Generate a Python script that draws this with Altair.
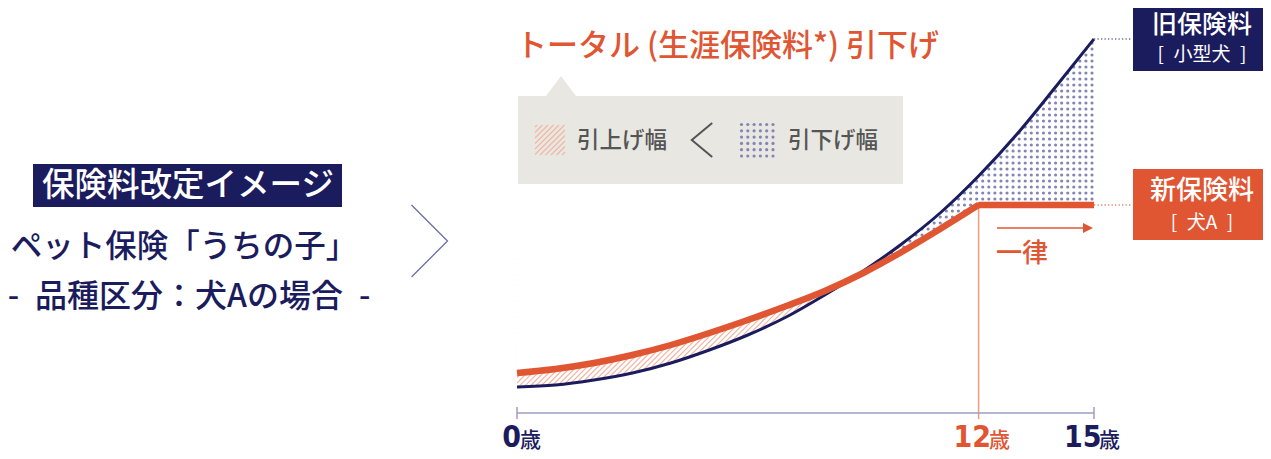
import altair as alt
import pandas as pd

# ---------------- data (arbitrary premium units) ----------------
ages = list(range(16))
old_premium = [26, 28, 33, 40, 50, 63, 78, 96, 118, 142, 169, 200, 237, 279, 326, 374]
new_premium = [40, 44, 50, 58, 68, 80, 93, 107, 122, 140, 161, 184, 208, 208, 208, 208]
flat_from_age = 12
tick_ages = [0, 12, 15]
tick_numbers = ["0", "12", "15"]
tick_unit = "歳"

title_text = "トータル (生涯保険料*) 引下げ"
badge_text = "保険料改定イメージ"
product_text = "ペット保険「うちの子」"
case_text = "-\u2002品種区分：犬Aの場合\u2002-"
legend_up = "引上げ幅"
legend_down = "引下げ幅"
old_label = "旧保険料"
old_sub = "[\u2002小型犬\u2002]"
new_label = "新保険料"
new_sub = "[\u2002犬A\u2002]"
flat_label = "一律"

# ---------------- styles ----------------
NAVY = "#1b1c5e"
ORANGE = "#e05633"
HATCH = "#f1b6a2"
DOT = "#8285b5"
LEGEND_BG = "#e8e7e1"
GRAY = "#555555"
AXIS = "#9d9fc3"
RULE12 = "#f29a80"
JP = "Noto Sans CJK JP"
NUM = "Liberation Sans Narrow, DejaVu Sans Condensed, Noto Sans"

W, H = 577, 393
OX, OY = 517, 20          # page position of the plot origin
PPA = W / 15.0            # pixels per year of age


def px(x):
    return x - OX


def py(y):
    return y - OY


xs = alt.Scale(domain=[0, 15], nice=False, zero=False)
ys = alt.Scale(domain=[0, H], nice=False, zero=False)


def X(f):
    return alt.X(f, type="quantitative", scale=xs, axis=None)


def Y(f):
    return alt.Y(f, type="quantitative", scale=ys, axis=None)


df = pd.DataFrame({"age": ages, "old": old_premium, "new": new_premium})
base = alt.Chart(df)
ann = alt.Chart(alt.Data(values=[{"k": 0}]))

layers = []

# ---- hatch pattern (increase region, ages 0-9) ----
hatch = (
    alt.Chart(alt.sequence(0, 92, as_="k"))
    .transform_calculate(p="-150 + datum.k * 5.4")
    .transform_calculate(s0="max(datum.p, 0)")
    .transform_calculate(s1=f"min(datum.p + 150, {8.9 * PPA})")
    .transform_filter("datum.s1 > datum.s0")
    .transform_calculate(a0=f"datum.s0 / {PPA}")
    .transform_calculate(a1=f"datum.s1 / {PPA}")
    .transform_calculate(v0="15 + datum.s0 - datum.p")
    .transform_calculate(v1="15 + datum.s1 - datum.p")
    .mark_rule(color=HATCH, strokeWidth=1.1)
    .encode(x=X("a0"), x2=alt.X2("a1"), y=Y("v0"), y2=alt.Y2("v1"))
)
layers.append(hatch)

left = base.transform_filter("datum.age <= 9")
layers.append(
    left.transform_calculate(top="170")
    .mark_area(color="white", opacity=1, interpolate="monotone")
    .encode(x=X("age"), y=Y("new"), y2=alt.Y2("top"))
)
layers.append(
    left.transform_calculate(bot="10")
    .mark_area(color="white", opacity=1, interpolate="monotone")
    .encode(x=X("age"), y=Y("bot"), y2=alt.Y2("old"))
)

# ---- dot pattern (decrease region, ages 9-15) ----
dots = (
    alt.Chart(alt.sequence(0, 38, as_="i"))
    .transform_calculate(row="sequence(-13, 29)")
    .transform_flatten(["row"])
    .transform_calculate(age=f"(575 - datum.i * 6.07) / {PPA}")
    .transform_calculate(v="214 + 6 * datum.row")
    .mark_circle(color=DOT, size=10, opacity=1)
    .encode(x=X("age"), y=Y("v"))
)
layers.append(dots)

right = base.transform_filter("datum.age >= 9")
layers.append(
    right.transform_calculate(top="392")
    .mark_area(color="white", opacity=1, interpolate="monotone")
    .encode(x=X("age"), y=Y("old"), y2=alt.Y2("top"))
)
layers.append(
    base.transform_filter(f"datum.age >= 9 && datum.age <= {flat_from_age}")
    .transform_calculate(bot="125")
    .mark_area(color="white", opacity=1, interpolate="monotone")
    .encode(x=X("age"), y=Y("bot"), y2=alt.Y2("new"))
)
layers.append(
    base.transform_filter(f"datum.age >= {flat_from_age}")
    .transform_calculate(bot="125")
    .mark_area(color="white", opacity=1)
    .encode(x=X("age"), y=Y("bot"), y2=alt.Y2("new"))
)

# ---- 12-year rule ----
layers.append(
    base.transform_filter(f"datum.age == {flat_from_age}")
    .mark_rule(color=RULE12, strokeWidth=1.5)
    .encode(x=X("age"), y=Y("new"), y2=alt.value(H + 6))
)

# ---- axis ----
ticks_df = pd.DataFrame({"age": tick_ages, "num": tick_numbers})
layers.append(
    alt.Chart(ticks_df)
    .transform_aggregate(a0="min(age)", a1="max(age)")
    .mark_rule(color=AXIS, strokeWidth=1.5)
    .encode(x=X("a0"), x2=alt.X2("a1"), y=alt.value(H))
)
layers.append(
    alt.Chart(ticks_df)
    .transform_joinaggregate(a0="min(age)", a1="max(age)")
    .transform_filter("datum.age == datum.a0 || datum.age == datum.a1")
    .mark_rule(color=AXIS, strokeWidth=1.5)
    .encode(x=X("age"), y=alt.value(H - 6), y2=alt.value(H + 6))
)

# ---- curves ----
layers.append(
    base.mark_line(color=NAVY, strokeWidth=3, interpolate="monotone")
    .encode(x=X("age"), y=Y("old"))
)
layers.append(
    base.transform_filter(f"datum.age <= {flat_from_age}")
    .mark_line(color=ORANGE, strokeWidth=6.5, interpolate="monotone")
    .encode(x=X("age"), y=Y("new"))
)
layers.append(
    base.transform_filter(f"datum.age >= {flat_from_age}")
    .mark_line(color=ORANGE, strokeWidth=6.5)
    .encode(x=X("age"), y=Y("new"))
)
layers.append(
    base.transform_filter(f"datum.age == {flat_from_age}")
    .mark_circle(color=ORANGE, size=33, opacity=1)
    .encode(x=X("age"), y=Y("new"))
)

# ---- leader lines ----
last = base.transform_filter("datum.age == 15")
layers.append(
    last.mark_rule(color="#6e71a0", strokeWidth=1.3, strokeDash=[1.3, 2.2])
    .encode(x=X("age"), x2=alt.value(px(1131)), y=Y("old"))
)
layers.append(
    last.mark_rule(color="#e8866a", strokeWidth=1.3, strokeDash=[1.3, 2.2])
    .encode(x=X("age"), x2=alt.value(px(1131)), y=Y("new"))
)


def rect(x0, y0, x1, y1, color):
    return ann.mark_rect(color=color, opacity=1).encode(
        x=alt.value(px(x0)), x2=alt.value(px(x1)),
        y=alt.value(py(y0)), y2=alt.value(py(y1)))


def text(t, x, y, size, color, align="center", weight=500, font=JP, baseline="middle"):
    return ann.mark_text(text=t, align=align, baseline=baseline, fontSize=size,
                         fontWeight=weight, font=font, color=color).encode(
        x=alt.value(px(x)), y=alt.value(py(y)))


def shape(path, x, y, size, color, sw=1.0, filled=False):
    if filled:
        m = ann.mark_point(shape=path, filled=True, size=size, color=color, opacity=1, strokeWidth=0)
    else:
        m = ann.mark_point(shape=path, filled=False, size=size, color=color, opacity=1,
                           strokeWidth=sw, strokeJoin="miter")
    return m.encode(x=alt.value(px(x)), y=alt.value(py(y)))


# ---- right labels ----
layers.append(rect(1133, -5, 1280, 71, NAVY))
layers.append(text(old_label, 1202, 25, 25, "white"))
layers.append(text(old_sub, 1202, 55, 19, "white", weight=400))
layers.append(rect(1133, 169, 1280, 240, ORANGE))
layers.append(text(new_label, 1202, 191, 26, "white"))
layers.append(text(new_sub, 1202, 223, 19, "white", weight=400))

# ---- title ----
layers.append(text(title_text, 516, 47, 31, ORANGE, align="left"))

# ---- legend box ----
layers.append(rect(518, 96, 903, 184, LEGEND_BG))
layers.append(shape("M-1,0.667L0,-0.667L1,0.667Z", 561, 86, 900, LEGEND_BG, filled=True))

sx0, sx1, sy0, sy1 = px(535), px(565), py(125), py(155)
sw_hatch = (
    alt.Chart(alt.sequence(0, 12, as_="k"))
    .transform_calculate(c=f"{sx0 + sy0} + 2 + datum.k * 5.5")
    .transform_calculate(s0=f"max({sx0}, datum.c - {sy1})")
    .transform_calculate(s1=f"min({sx1}, datum.c - {sy0})")
    .transform_filter("datum.s1 > datum.s0")
    .transform_calculate(a0=f"datum.s0 / {PPA}")
    .transform_calculate(a1=f"datum.s1 / {PPA}")
    .transform_calculate(v0=f"{H} - (datum.c - datum.s0)")
    .transform_calculate(v1=f"{H} - (datum.c - datum.s1)")
    .mark_rule(color=HATCH, strokeWidth=1.1)
    .encode(x=X("a0"), x2=alt.X2("a1"), y=Y("v0"), y2=alt.Y2("v1"))
)
layers.append(sw_hatch)
sw_dots = (
    alt.Chart(alt.sequence(0, 6, as_="i"))
    .transform_calculate(j="sequence(0, 6)")
    .transform_flatten(["j"])
    .transform_calculate(age=f"({px(741.5)} + datum.i * 6.3) / {PPA}")
    .transform_calculate(v=f"{H} - ({py(124.5)} + datum.j * 6.3)")
    .mark_circle(color=DOT, size=10, opacity=1)
    .encode(x=X("age"), y=Y("v"))
)
layers.append(sw_dots)
layers.append(text(legend_up, 577, 141, 22.5, GRAY, align="left"))
layers.append(text(legend_down, 788, 141, 22.5, GRAY, align="left"))
layers.append(shape("M0.6,-1L-0.6,0L0.6,1", 702, 140, 1156, GRAY, sw=2))

# ---- "一律" arrow ----
layers.append(ann.mark_rule(color=ORANGE, strokeWidth=1.5).encode(
    x=alt.value(px(997)), x2=alt.value(px(1086)), y=alt.value(py(228))))
layers.append(shape("M-1,-1L1,0L-1,1Z", 1088, 228, 100, ORANGE, filled=True))
layers.append(text(flat_label, 996, 254, 26, ORANGE, align="left"))

# ---- left block ----
layers.append(rect(33, 164, 342, 207, NAVY))
layers.append(text(badge_text, 188, 186, 32.5, "white"))
layers.append(text(product_text, 184, 248, 31.5, NAVY))
layers.append(text(case_text, 189, 297, 32, NAVY))
layers.append(shape("M-0.5,-1L0.5,0L-0.5,1", 429.5, 241, 5184, "#6b6e9e", sw=1.3))

# ---- tick labels ----
tick_colors = {"0": NAVY, "12": ORANGE, "15": NAVY}
num_dx = {"0": 4, "12": 12.5, "15": 7.5}
unit_dx = {"0": 3, "12": 10.5, "15": 5}
for a, n in zip(tick_ages, tick_numbers):
    sel = alt.Chart(ticks_df).transform_filter(f"datum.num == '{n}'")
    layers.append(
        sel.mark_text(align="right", baseline="alphabetic", fontSize=30, font=NUM,
                      fontWeight="bold", color=tick_colors[n], dx=num_dx[n])
        .encode(x=X("age"), y=alt.value(H + 34), text="num:N")
    )
    layers.append(
        sel.mark_text(align="left", baseline="alphabetic", fontSize=21, font=JP,
                      fontWeight=500, color=tick_colors[n], dx=unit_dx[n], text=tick_unit)
        .encode(x=X("age"), y=alt.value(H + 34))
    )

chart = (
    alt.layer(*layers)
    .properties(
        width=W, height=H,
        padding={"left": OX - 8, "top": OY - 8, "right": 1255 - (OX - 8) - W,
                 "bottom": 443 - (OY - 8) - H},
        autosize=alt.AutoSizeParams(type="none"),
        background="white",
    )
    .configure_view(strokeWidth=0)
)

chart.save("out.html", embed_options={"renderer": "svg", "actions": False})
